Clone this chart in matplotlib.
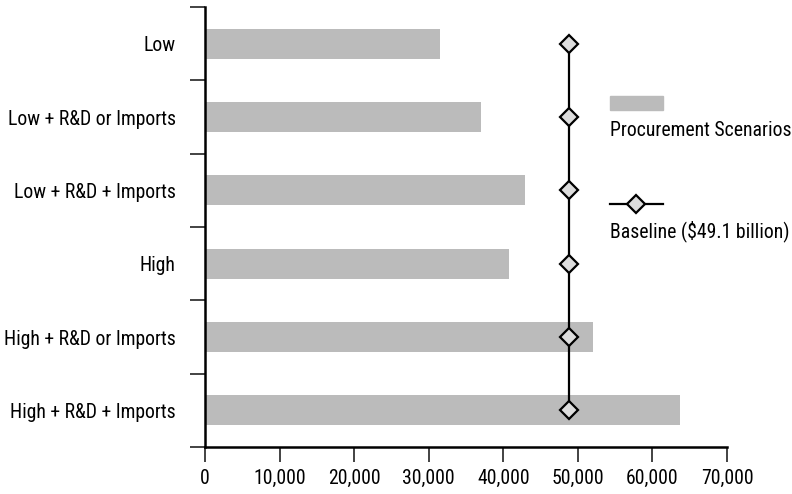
import matplotlib
matplotlib.use("Agg")
import matplotlib.pyplot as plt
from matplotlib.lines import Line2D
from matplotlib.patches import Rectangle
from matplotlib import font_manager

categories = ["Low", "Low + R&D or Imports", "Low + R&D + Imports", "High",
              "High + R&D or Imports", "High + R&D + Imports"]
scenario_values = [31500, 37000, 42900, 40800, 52000, 63700]
baseline_values = [48800, 48800, 48800, 48800, 48800, 48800]
x_ticks = [0, 10000, 20000, 30000, 40000, 50000, 60000, 70000]
x_tick_labels = ["0", "10,000", "20,000", "30,000", "40,000", "50,000", "60,000", "70,000"]
legend_labels = ["Procurement Scenarios", "Baseline ($49.1 billion)"]

names = {f.name for f in font_manager.fontManager.ttflist}
if "Roboto Condensed" in names:
    fam, fs = "Roboto Condensed", 14.2
elif "Liberation Sans Narrow" in names:
    fam, fs = "Liberation Sans Narrow", 14
else:
    fam, fs = "Roboto", 12
plt.rcParams['font.family'] = [fam, 'DejaVu Sans']

W, H = 792, 494
fig = plt.figure(figsize=(W / 100, H / 100), dpi=100)
ax = fig.add_axes([205 / W, 1 - 447 / H, (727 - 205) / W, (447 - 7) / H])

bar_color = "#bbbbbb"
pos = list(range(len(categories)))
ax.barh(pos, scenario_values, height=0.41, color=bar_color, zorder=1)
ax.plot(baseline_values, pos, color="black", lw=1.6, marker="D", ms=9,
        markerfacecolor="#dddddd", markeredgecolor="black", markeredgewidth=1.6,
        zorder=3, clip_on=False)

ax.set_xlim(0, 70000)
ax.set_ylim(len(categories) - 0.5, -0.5)

for s in ["top", "right"]:
    ax.spines[s].set_visible(False)
for s in ["left", "bottom"]:
    ax.spines[s].set_linewidth(1.8)
    ax.spines[s].set_color("black")

ax.set_xticks(x_ticks)
ax.set_xticklabels(x_tick_labels, fontsize=fs)
ax.tick_params(axis="x", direction="out", length=11, width=1.2, pad=5, color="#222222")

ax.set_yticks(pos)
ax.set_yticklabels(categories, fontsize=fs)
ax.tick_params(axis="y", which="major", length=0, pad=21)
ax.set_yticks([p - 0.5 for p in pos] + [len(categories) - 0.5], minor=True)
ax.tick_params(axis="y", which="minor", direction="out", length=11, width=1.2, color="#222222")

# Legend drawn manually
fig.patches.append(Rectangle((610 / W, 1 - 110 / H), 53 / W, 14 / H,
                             transform=fig.transFigure, color=bar_color))
fig.text(610 / W, 1 - 131 / H, legend_labels[0], fontsize=fs, va="center", ha="left")
fig.lines.append(Line2D([610 / W, 663 / W], [1 - 204 / H, 1 - 204 / H],
                        transform=fig.transFigure, color="black", lw=1.6))
fig.lines.append(Line2D([636 / W], [1 - 204 / H], transform=fig.transFigure,
                        marker="D", ms=9, markerfacecolor="#dddddd",
                        markeredgecolor="black", markeredgewidth=1.6))
fig.text(610 / W, 1 - 231 / H, legend_labels[1], fontsize=fs, va="center", ha="left")

fig.savefig("out.png", dpi=100)
